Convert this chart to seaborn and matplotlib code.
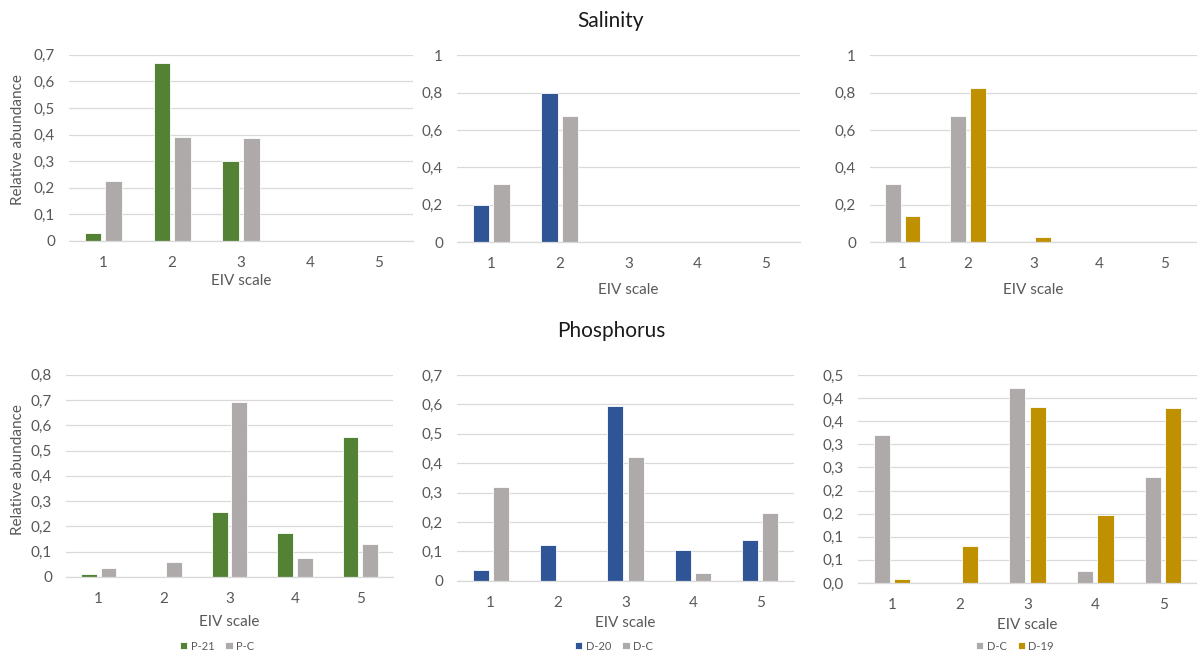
import numpy as np
import pandas as pd
import matplotlib
matplotlib.use("Agg")
import matplotlib.pyplot as plt
from matplotlib.ticker import FixedLocator, FuncFormatter
from decimal import Decimal, ROUND_HALF_UP
import seaborn as sns

# EIV scale classes
eiv_scale = ["1", "2", "3", "4", "5"]

# Salinity: relative abundance per EIV class
sal_p21 = [0.030, 0.667, 0.300, 0.0, 0.0]
sal_pc = [0.224, 0.389, 0.386, 0.0, 0.0]
sal_d20 = [0.200, 0.800, 0.0, 0.0, 0.0]
sal_dc = [0.312, 0.676, 0.0, 0.0, 0.0]
sal_d19 = [0.137, 0.827, 0.027, 0.0, 0.0]

# Phosphorus: relative abundance per EIV class
pho_p21 = [0.0105, 0.0, 0.256, 0.175, 0.552]
pho_pc = [0.034, 0.061, 0.691, 0.075, 0.130]
pho_d20 = [0.036, 0.121, 0.593, 0.106, 0.137]
pho_dc = [0.320, 0.0, 0.421, 0.026, 0.230]
pho_d19 = [0.009, 0.081, 0.380, 0.148, 0.378]

series_colors = {"P-21": "#548235", "P-C": "#AEAAAA", "D-20": "#2F5597",
                 "D-C": "#AEAAAA", "D-19": "#BF9000"}

sns.set_theme(style="white")
plt.rcParams["font.family"] = ["Lato", "DejaVu Sans"]

W, H = 1197, 657
fig = plt.figure(figsize=(W / 100, H / 100), dpi=100)

TICK_C = "#595959"
GRID_C = "#D9D9D9"


def frac_label(v, decimals, zero_plain):
    if zero_plain and abs(v) < 1e-9:
        return "0"
    d = Decimal(str(round(v, 4))).quantize(Decimal(1).scaleb(-decimals), rounding=ROUND_HALF_UP)
    s = format(d, "f")
    if zero_plain:
        s = s.rstrip("0").rstrip(".") if "." in s else s
    return s.replace(".", ",")


def panel(box, names, values, ticks, decimals, zero_plain, ylabel=False,
          xlab_y=None, ylab_y=None, legend_xy=None):
    left, top, right, bottom = box
    ax = fig.add_axes([left / W, 1 - bottom / H, (right - left) / W, (bottom - top) / H])
    df = pd.DataFrame({
        "EIV": eiv_scale * len(names),
        "series": sum([[n] * len(eiv_scale) for n in names], []),
        "value": sum([list(v) for v in values], []),
    })
    sns.barplot(data=df, x="EIV", y="value", hue="series", hue_order=names,
                palette=[series_colors[n] for n in names], ax=ax, saturation=1,
                width=0.6, gap=0.2, edgecolor="white", linewidth=0.6,
                legend=legend_xy is not None)
    ax.set_ylim(0, ticks[-1])
    ax.set_xlim(-0.5, len(eiv_scale) - 0.5)
    ax.yaxis.set_major_locator(FixedLocator(ticks))
    ax.yaxis.set_major_formatter(FuncFormatter(lambda v, p: frac_label(v, decimals, zero_plain)))
    ax.grid(axis="y", color=GRID_C, linewidth=0.9)
    ax.set_axisbelow(True)
    for s in ["top", "right", "left"]:
        ax.spines[s].set_visible(False)
    ax.spines["bottom"].set_color(GRID_C)
    ax.spines["bottom"].set_linewidth(0.9)
    ax.tick_params(axis="both", length=0, labelsize=11, labelcolor=TICK_C)
    ax.tick_params(axis="y", pad=10)
    ax.tick_params(axis="x", pad=11)
    ax.set_xlabel("EIV scale", fontsize=11, color=TICK_C)
    ax.xaxis.label.set_va("center")
    ax.xaxis.set_label_coords(0.5, (bottom - xlab_y) / (bottom - top))
    if ylabel:
        ax.set_ylabel("Relative abundance", fontsize=11, color=TICK_C)
        ax.yaxis.label.set_va("center")
        ax.yaxis.set_label_coords((18 - left) / (right - left), (bottom - ylab_y) / (bottom - top))
    else:
        ax.set_ylabel("")
    if legend_xy is not None:
        leg = ax.get_legend()
        handles = leg.legend_handles
        labels = [t.get_text() for t in leg.get_texts()]
        leg.remove()
        ax.legend(handles, labels, loc="center",
                  bbox_to_anchor=(legend_xy[0] / W, 1 - legend_xy[1] / H),
                  bbox_transform=fig.transFigure, ncol=len(names), frameon=False,
                  fontsize=8, labelcolor=TICK_C, handlelength=0.65, handleheight=0.65,
                  handletextpad=0.3, columnspacing=1.0, borderpad=0)
    return ax


# Salinity row
panel((69, 54.7, 413, 241), ["P-21", "P-C"], [sal_p21, sal_pc],
      np.round(np.arange(0, 0.71, 0.1), 2), 1, True, ylabel=True, xlab_y=281, ylab_y=140)
panel((457, 55.3, 800, 242), ["D-20", "D-C"], [sal_d20, sal_dc],
      np.round(np.arange(0, 1.01, 0.2), 2), 1, True, xlab_y=290)
panel((870, 55.3, 1197, 242), ["D-C", "D-19"], [sal_dc, sal_d19],
      np.round(np.arange(0, 1.01, 0.2), 2), 1, True, xlab_y=290)

# Phosphorus row
panel((66, 374.7, 393, 577), ["P-21", "P-C"], [pho_p21, pho_pc],
      np.round(np.arange(0, 0.81, 0.1), 2), 1, True, ylabel=True, xlab_y=622, ylab_y=470,
      legend_xy=(217, 646))
panel((457, 375, 794, 580.7), ["D-20", "D-C"], [pho_d20, pho_dc],
      np.round(np.arange(0, 0.71, 0.1), 2), 1, True, xlab_y=623, legend_xy=(614, 646))
panel((858, 375, 1197, 583), ["D-C", "D-19"], [pho_dc, pho_d19],
      np.round(np.arange(0, 0.451, 0.05), 2), 1, False, xlab_y=625, legend_xy=(1015, 646))

fig.text(611 / W, 1 - 21 / H, "Salinity", ha="center", va="center", fontsize=15, color="#1a1a1a")
fig.text(611 / W, 1 - 331 / H, "Phosphorus", ha="center", va="center", fontsize=15, color="#1a1a1a")

fig.savefig("out.png", dpi=100, facecolor="white")
